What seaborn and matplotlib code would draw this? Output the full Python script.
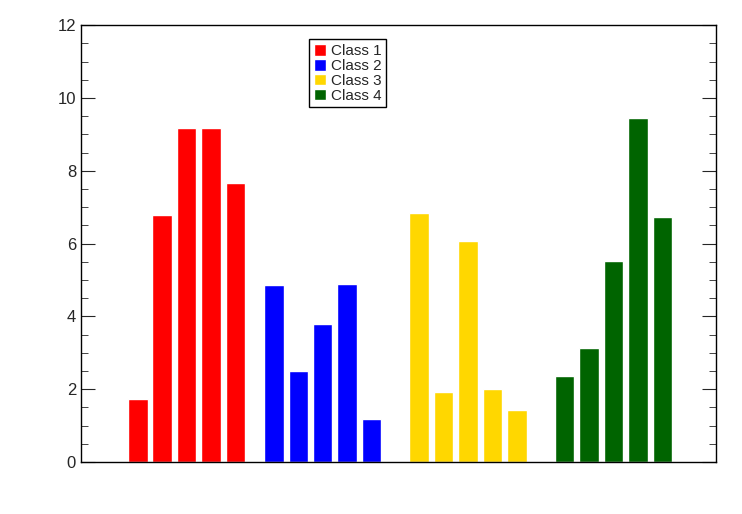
import matplotlib
matplotlib.use("agg")
import matplotlib.pyplot as plt
import pandas as pd
import seaborn as sns
from matplotlib.ticker import MultipleLocator

classes = ["Class 1", "Class 2", "Class 3", "Class 4"]
colors = ["#ff0000", "#0000ff", "#ffd700", "#006400"]
starts = [2.33, 7.9, 13.85, 19.8]
class1 = [1.72, 6.8, 9.17, 9.18, 7.66]
class2 = [4.86, 2.5, 3.79, 4.89, 1.18]
class3 = [6.84, 1.92, 6.07, 2.0, 1.43]
class4 = [2.36, 3.13, 5.52, 9.45, 6.73]

rows = []
for name, start, vals in zip(classes, starts, [class1, class2, class3, class4]):
    for i, v in enumerate(vals):
        rows.append({"cls": name, "x": start + i, "val": v})
df = pd.DataFrame(rows)

sns.set_style("ticks")
plt.rcParams['font.family'] = ['Liberation Sans', 'DejaVu Sans']
fig, ax = plt.subplots(figsize=(7.42, 5.14), dpi=100)
fig.subplots_adjust(left=0.109, right=0.965, top=0.951, bottom=0.101)

for name, col in zip(classes, colors):
    d = df[df.cls == name]
    ax.bar(d.x, d.val, width=0.8, color=col, label=name)

ax.set_xlim(0, 26)
ax.set_ylim(0, 12)
ax.set_xticks(df.x)
ax.set_xticklabels([])
ax.tick_params(axis='x', direction='in', length=8, top=False)
ax.yaxis.set_major_locator(MultipleLocator(2))
ax.yaxis.set_minor_locator(MultipleLocator(0.5))
ax.tick_params(axis='y', which='major', direction='in', length=10, right=True, labelsize=12)
ax.tick_params(axis='y', which='minor', direction='in', length=5, right=True)
for s in ax.spines.values():
    s.set_linewidth(1)
    s.set_color('black')

leg = ax.legend(loc='upper center', bbox_to_anchor=(0.42, 0.985), fontsize=11,
                handlelength=0.8, handleheight=0.8, handletextpad=0.3,
                labelspacing=0.05, borderpad=0.3, fancybox=False, framealpha=1)
leg.get_frame().set_edgecolor('black')

fig.savefig("out.png")
